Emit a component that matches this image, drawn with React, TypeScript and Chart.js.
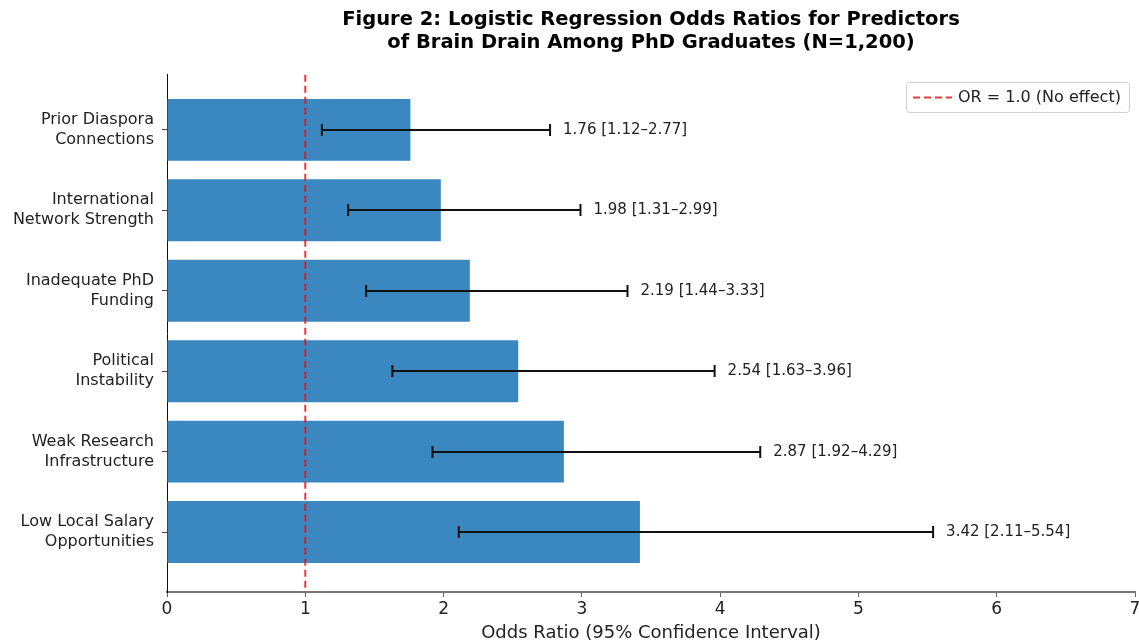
import React, { useEffect, useRef } from "react";
import { Chart, registerables } from "chart.js";

Chart.register(...registerables);

// Predictors listed top -> bottom as shown in the figure
const predictors: string[][] = [
  ["Prior Diaspora", "Connections"],
  ["International", "Network Strength"],
  ["Inadequate PhD", "Funding"],
  ["Political", "Instability"],
  ["Weak Research", "Infrastructure"],
  ["Low Local Salary", "Opportunities"],
];
const oddsRatios: number[] = [1.76, 1.98, 2.19, 2.54, 2.87, 3.42];
const ciLower: number[] = [1.12, 1.31, 1.44, 1.63, 1.92, 2.11];
const ciUpper: number[] = [2.77, 2.99, 3.33, 3.96, 4.29, 5.54];
const xTicks: number[] = [0, 1, 2, 3, 4, 5, 6, 7];
const referenceOR = 1.0;
const legendLabel = "OR = 1.0 (No effect)";
const titleLines = [
  "Figure 2: Logistic Regression Odds Ratios for Predictors",
  "of Brain Drain Among PhD Graduates (N=1,200)",
];
const xAxisTitle = "Odds Ratio (95% Confidence Interval)";

const FONT = "'DejaVu Sans', 'Liberation Sans', sans-serif";
const n = predictors.length;
const posOf = (i: number) => n - 1 - i;

const overlayPlugin = {
  id: "overlay",
  afterDatasetsDraw(chart: any) {
    const { ctx, chartArea, scales } = chart;
    const xs = scales.x;
    const ys = scales.y;
    ctx.save();
    // error bars + labels
    for (let i = 0; i < n; i++) {
      const y = Math.round(ys.getPixelForValue(posOf(i)));
      const x0 = xs.getPixelForValue(ciLower[i]);
      const x1 = xs.getPixelForValue(ciUpper[i]);
      ctx.strokeStyle = "#111";
      ctx.lineWidth = 2;
      ctx.setLineDash([]);
      ctx.beginPath();
      ctx.moveTo(x0, y);
      ctx.lineTo(x1, y);
      ctx.moveTo(x0, y - 6);
      ctx.lineTo(x0, y + 6);
      ctx.moveTo(x1, y - 6);
      ctx.lineTo(x1, y + 6);
      ctx.stroke();
      ctx.fillStyle = "#222";
      ctx.font = `15px ${FONT}`;
      ctx.textBaseline = "middle";
      ctx.textAlign = "left";
      const lbl = `${oddsRatios[i].toFixed(2)} [${ciLower[i].toFixed(2)}\u2013${ciUpper[i].toFixed(2)}]`;
      ctx.fillText(lbl, x1 + 13, y);
    }
    // reference line
    const rx = xs.getPixelForValue(referenceOR);
    ctx.strokeStyle = "rgba(230,20,20,0.85)";
    ctx.lineWidth = 2;
    ctx.setLineDash([7, 4]);
    ctx.beginPath();
    ctx.moveTo(rx, chartArea.top);
    ctx.lineTo(rx, chartArea.bottom);
    ctx.stroke();
    // legend
    const bx = 906, by = 82, bw = 223, bh = 30;
    ctx.setLineDash([]);
    ctx.fillStyle = "rgba(255,255,255,0.85)";
    ctx.strokeStyle = "#d0d0d0";
    ctx.lineWidth = 1;
    ctx.beginPath();
    ctx.roundRect(bx + 0.5, by + 0.5, bw, bh, 3);
    ctx.fill();
    ctx.stroke();
    ctx.strokeStyle = "rgba(230,20,20,0.85)";
    ctx.lineWidth = 2;
    ctx.setLineDash([7, 4]);
    ctx.beginPath();
    ctx.moveTo(bx + 7, by + bh / 2 + 0.5);
    ctx.lineTo(bx + 46, by + bh / 2 + 0.5);
    ctx.stroke();
    ctx.fillStyle = "#222";
    ctx.font = `16px ${FONT}`;
    ctx.textAlign = "left";
    ctx.textBaseline = "middle";
    ctx.fillText(legendLabel, bx + 52, by + bh / 2 + 1);
    ctx.restore();
  },
};

export default function App() {
  const ref = useRef<HTMLCanvasElement>(null);
  useEffect(() => {
    document.body.style.margin = "0";
    const canvas = ref.current!;
    const chart = new Chart(canvas, {
      type: "bar",
      data: {
        datasets: [
          {
            data: oddsRatios.map((v, i) => ({ x: v, y: posOf(i) })),
            backgroundColor: "#3b87c0",
            borderWidth: 0,
            barPercentage: 0.77,
            categoryPercentage: 1,
          },
        ],
      },
      options: {
        indexAxis: "y",
        responsive: false,
        animation: false,
        layout: { padding: { left: 0, right: 4, top: 0, bottom: 0 } },
        plugins: {
          legend: { display: false },
          tooltip: { enabled: false },
          title: {
            display: true,
            text: titleLines,
            fullSize: false,
            color: "#000",
            font: { family: FONT, size: 19.5, weight: "bold", lineHeight: 1.2 },
            padding: { top: 8, bottom: 20 },
          },
        },
        scales: {
          x: {
            type: "linear",
            min: 0,
            max: 7,
            afterBuildTicks: (s: any) => {
              s.ticks = xTicks.map((v) => ({ value: v }));
            },
            afterFit: (s: any) => {
              s.height = 52;
              s.paddingLeft = 0;
              s.paddingRight = 0;
            },
            ticks: {
              color: "#222",
              font: { family: FONT, size: 17 },
              padding: 2,
              callback: (v: any) => String(v),
            },
            grid: { display: true, drawOnChartArea: false, tickLength: 5, color: "#666", lineWidth: 1 },
            border: { display: true, color: "#777", width: 2 },
            title: {
              display: true,
              text: xAxisTitle,
              color: "#222",
              font: { family: FONT, size: 18, lineHeight: 1.2 },
              padding: { top: 0, bottom: 0 },
            },
          },
          y: {
            type: "linear",
            offset: false,
            min: -0.745,
            max: n - 1 + 0.685,
            afterBuildTicks: (s: any) => {
              s.ticks = predictors.map((_, i) => ({ value: posOf(i) }));
            },
            afterFit: (s: any) => {
              s.width = 167;
              s.paddingTop = 0;
              s.paddingBottom = 0;
            },
            ticks: {
              color: "#222",
              font: { family: FONT, size: 16, lineHeight: 1.25 },
              padding: 8,
              callback: (v: any) => {
                const idx = n - 1 - Math.round(Number(v));
                return predictors[idx] ?? "";
              },
            },
            grid: { display: true, offset: false, drawOnChartArea: false, tickLength: 5, color: "#444", lineWidth: 1 },
            border: { display: true, color: "#111", width: 1 },
          },
        },
      },
      plugins: [overlayPlugin],
    } as any);
    return () => chart.destroy();
  }, []);
  return (
    <div style={{ width: 1139, height: 644, background: "#fff" }}>
      <canvas ref={ref} width={1139} height={644} />
    </div>
  );
}
